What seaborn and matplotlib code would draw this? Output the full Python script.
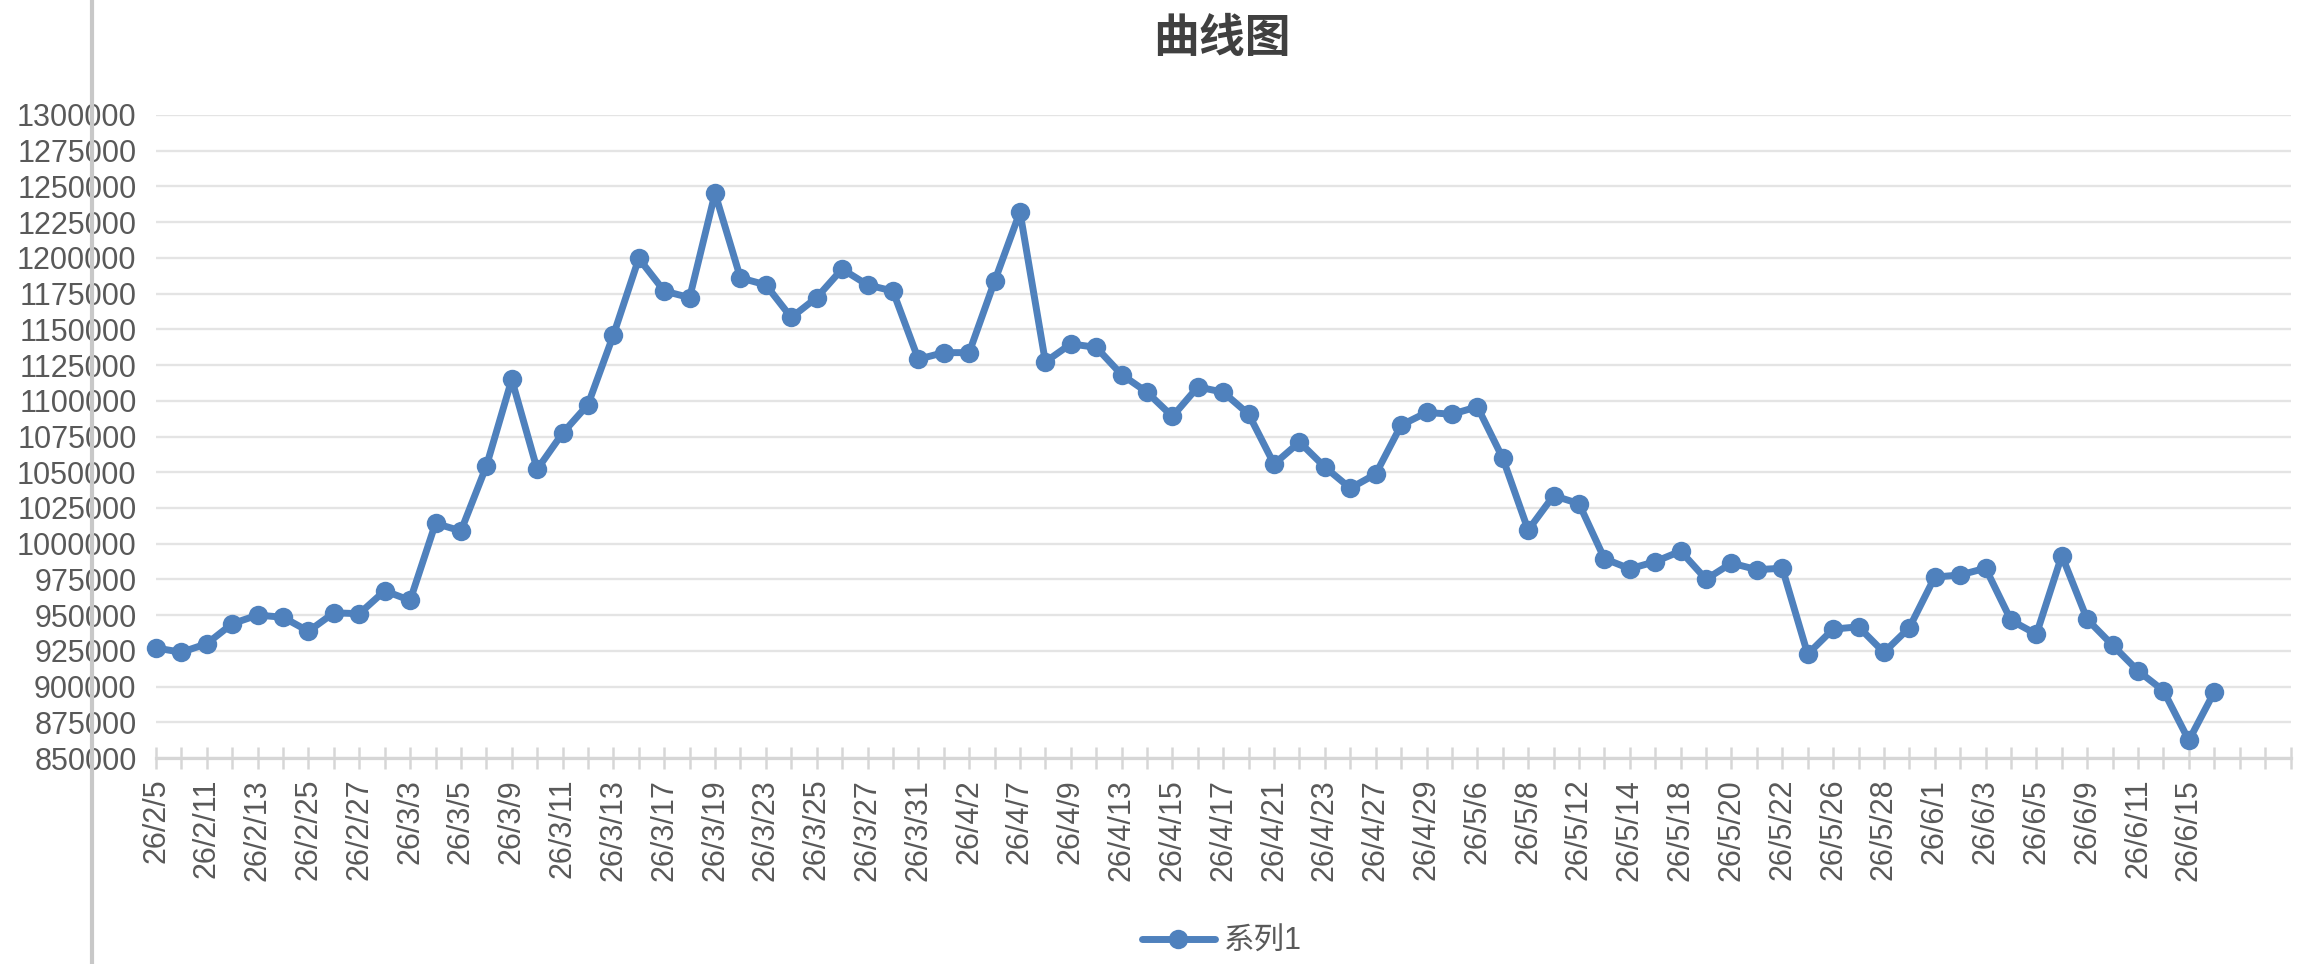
import numpy as np
import pandas as pd
import seaborn as sns
from matplotlib import pyplot as plt
from matplotlib.lines import Line2D

# dates on the category axis (only every other one is printed)
dates = [
    "26/2/5", "26/2/10", "26/2/11", "26/2/12", "26/2/13", "26/2/24", "26/2/25", "26/2/26",
    "26/2/27", "26/3/2", "26/3/3", "26/3/4", "26/3/5", "26/3/6", "26/3/9", "26/3/10",
    "26/3/11", "26/3/12", "26/3/13", "26/3/16", "26/3/17", "26/3/18", "26/3/19", "26/3/20",
    "26/3/23", "26/3/24", "26/3/25", "26/3/26", "26/3/27", "26/3/30", "26/3/31", "26/4/1",
    "26/4/2", "26/4/3", "26/4/7", "26/4/8", "26/4/9", "26/4/10", "26/4/13", "26/4/14",
    "26/4/15", "26/4/16", "26/4/17", "26/4/20", "26/4/21", "26/4/22", "26/4/23", "26/4/24",
    "26/4/27", "26/4/28", "26/4/29", "26/4/30", "26/5/6", "26/5/7", "26/5/8", "26/5/11",
    "26/5/12", "26/5/13", "26/5/14", "26/5/15", "26/5/18", "26/5/19", "26/5/20", "26/5/21",
    "26/5/22", "26/5/25", "26/5/26", "26/5/27", "26/5/28", "26/5/29", "26/6/1", "26/6/2",
    "26/6/3", "26/6/4", "26/6/5", "26/6/8", "26/6/9", "26/6/10", "26/6/11", "26/6/12",
    "26/6/15", "26/6/16",
]
# empty rows left at the end of the sheet range
empty_rows = ["", "", ""]

values = [
    927000, 924000, 930000, 944000, 950000, 948500, 938700, 951600, 951000, 967000,
    960300, 1014200, 1008900, 1054200, 1114900, 1052000, 1077300, 1097300, 1146000, 1199600,
    1176800, 1172200, 1245200, 1186000, 1181100, 1158300, 1172200, 1192200, 1181100, 1176800,
    1129100, 1133700, 1133700, 1183600, 1232200, 1127200, 1139800, 1137400, 1118300, 1106000,
    1089000, 1109700, 1106000, 1090600, 1055700, 1071100, 1053600, 1038800, 1048700, 1082900,
    1091800, 1090600, 1095800, 1059800, 1009500, 1033600, 1028000, 989500, 982400, 987400,
    994800, 975100, 986400, 981800, 982800, 922700, 940200, 941800, 923900, 941200,
    976600, 978100, 982800, 946400, 936600, 991700, 947000, 928900, 911000, 897100,
    862300, 896200,
]

y_ticks = list(range(850000, 1300001, 25000))
title = "曲线图"
series_name = "系列1"

sns.set_theme(style="white")
plt.rcParams["font.family"] = ["Liberation Sans", "Noto Sans CJK SC", "DejaVu Sans"]

blue = "#4f81bd"
grey_txt = "#595959"
grid_c = "#e4e4e4"
axis_c = "#d6d6d6"

df = pd.DataFrame({"pos": np.arange(len(values)), "value": values})
all_cats = dates + empty_rows

fig = plt.figure(figsize=(23, 9.64), dpi=100)
ax = fig.add_axes([156 / 2300, 1 - 758 / 964, (2290.5 - 156) / 2300, (758 - 115) / 964])

sns.lineplot(data=df, x="pos", y="value", ax=ax, color=blue, linewidth=5,
             marker="o", markersize=14, markeredgewidth=0, label=series_name,
             zorder=3, clip_on=False)

ax.set_xlim(0, len(all_cats) - 1)
ax.set_ylim(y_ticks[0], y_ticks[-1])
ax.set_yticks(y_ticks)
ax.set_yticklabels([str(v) for v in y_ticks])
ax.set_xticks(np.arange(len(all_cats)))
ax.set_xticklabels([c if i % 2 == 0 else "" for i, c in enumerate(all_cats)], rotation=90)

ax.yaxis.grid(True, color=grid_c, linewidth=1.7)
ax.xaxis.grid(False)
for side in ["left", "right", "top"]:
    ax.spines[side].set_visible(False)
ax.spines["bottom"].set_color(axis_c)
ax.spines["bottom"].set_linewidth(2.3)

ax.tick_params(axis="x", direction="inout", length=16, width=1.8, color=axis_c,
               labelsize=22, labelcolor=grey_txt, pad=7, bottom=True)
ax.tick_params(axis="y", length=0, labelsize=22, labelcolor=grey_txt, pad=14)
ax.set_xlabel("")
ax.set_ylabel("")

fig.text(1222 / 2300, 1 - 40 / 964, title, ha="center", va="center",
         fontsize=33, color="#404040", fontweight="bold")

leg = ax.legend(loc="center", bbox_to_anchor=(1222 / 2300, 1 - 942 / 964),
                bbox_transform=fig.transFigure, frameon=False, fontsize=22,
                handlelength=2.4, handletextpad=0.3)
for t in leg.get_texts():
    t.set_color(grey_txt)

# grey frame border on the left of the screenshot
fig.add_artist(Line2D([92 / 2300, 92 / 2300], [0, 1], color="#c8c8c8", linewidth=3,
                      transform=fig.transFigure, zorder=10))

fig.savefig("out.png", dpi=100)
